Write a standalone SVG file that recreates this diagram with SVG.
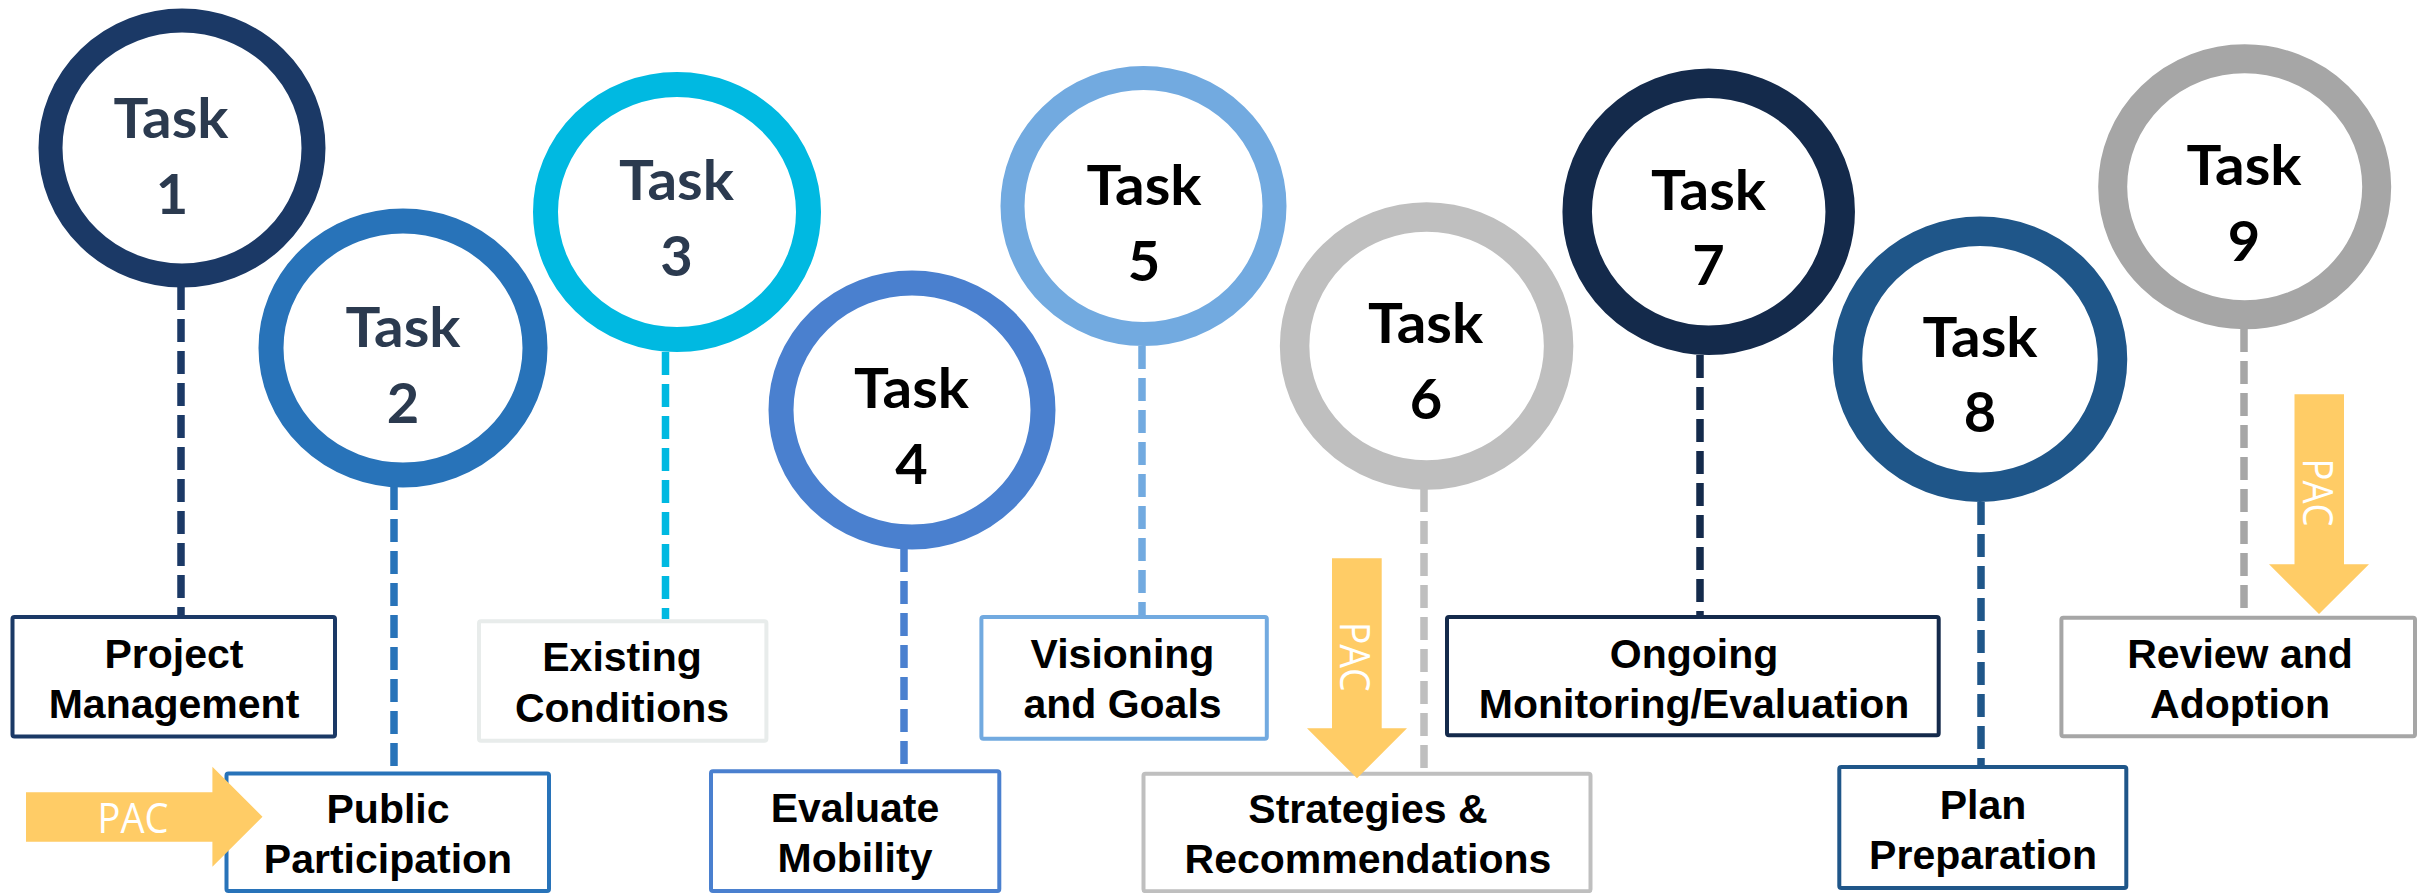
<svg xmlns="http://www.w3.org/2000/svg" width="2430" height="893" viewBox="0 0 2430 893">
<style>
.ring{fill:#fff}
.tk{font-family:Lato,"Open Sans",sans-serif;font-weight:700;font-size:56px;text-anchor:middle}
.dk{fill:#2b3a4f}
.bk{fill:#000}
.box{fill:#fff;stroke-width:4}
.bt{font-family:"Liberation Sans",Arial,sans-serif;font-weight:700;font-size:41px;text-anchor:middle;fill:#000}
.dash{fill:none;stroke-width:7.5;stroke-dasharray:23 9}
.pac{fill:#FFCC66}
.pt{font-family:"Open Sans","Liberation Sans",sans-serif;font-size:42px;fill:#fff;text-anchor:middle}
</style>
<rect width="2430" height="893" fill="#fff"/>
<g id="connectors">
<line class="dash" stroke="#1B3966" x1="181" y1="287" x2="181" y2="615"/>
<line class="dash" stroke="#2873B9" x1="394" y1="487" x2="394" y2="772"/>
<line class="dash" stroke="#00B9E1" x1="665.5" y1="352" x2="665.5" y2="619"/>
<line class="dash" stroke="#4A80CF" x1="904" y1="549" x2="904" y2="769"/>
<line class="dash" stroke="#72AAE0" x1="1142" y1="346" x2="1142" y2="615"/>
<line class="dash" stroke="#BFBFBF" x1="1424" y1="489" x2="1424" y2="772"/>
<line class="dash" stroke="#142A4B" x1="1700" y1="355" x2="1700" y2="615"/>
<line class="dash" stroke="#1F5689" x1="1981" y1="502" x2="1981" y2="765"/>
<line class="dash" stroke="#A6A6A6" x1="2244" y1="329" x2="2244" y2="615"/>
</g>
<g id="task1">
<ellipse class="ring" cx="182" cy="148" rx="131.5" ry="127.5" stroke="#1B3966" stroke-width="24"/>
<text class="tk dk" x="171" y="138" textLength="115" lengthAdjust="spacingAndGlyphs">Task</text>
<text class="tk dk" x="172" y="214">1</text>
</g>
<g id="task2">
<ellipse class="ring" cx="403" cy="348" rx="132" ry="127" stroke="#2873B9" stroke-width="25"/>
<text class="tk dk" x="403" y="346.7" textLength="115" lengthAdjust="spacingAndGlyphs">Task</text>
<text class="tk dk" x="403" y="422.7">2</text>
</g>
<g id="task3">
<ellipse class="ring" cx="677" cy="212" rx="131.5" ry="127.5" stroke="#00B9E1" stroke-width="25"/>
<text class="tk dk" x="676.4" y="200" textLength="115" lengthAdjust="spacingAndGlyphs">Task</text>
<text class="tk dk" x="676.4" y="276">3</text>
</g>
<g id="task4">
<ellipse class="ring" cx="912" cy="410" rx="131" ry="127" stroke="#4A80CF" stroke-width="25"/>
<text class="tk bk" x="911.5" y="408.3" textLength="115" lengthAdjust="spacingAndGlyphs">Task</text>
<text class="tk bk" x="911.5" y="484.3">4</text>
</g>
<g id="task5">
<ellipse class="ring" cx="1143.5" cy="206" rx="131" ry="128" stroke="#72AAE0" stroke-width="24"/>
<text class="tk bk" x="1144" y="205" textLength="115" lengthAdjust="spacingAndGlyphs">Task</text>
<text class="tk bk" x="1144" y="281">5</text>
</g>
<g id="task6">
<ellipse class="ring" cx="1426.6" cy="346" rx="132" ry="129" stroke="#BFBFBF" stroke-width="29.5"/>
<text class="tk bk" x="1425.6" y="343.3" textLength="115" lengthAdjust="spacingAndGlyphs">Task</text>
<text class="tk bk" x="1426" y="419.3">6</text>
</g>
<g id="task7">
<ellipse class="ring" cx="1708.7" cy="211.7" rx="131.5" ry="128.5" stroke="#142A4B" stroke-width="29.5"/>
<text class="tk bk" x="1708.5" y="210" textLength="115" lengthAdjust="spacingAndGlyphs">Task</text>
<text class="tk bk" x="1708.5" y="285">7</text>
</g>
<g id="task8">
<ellipse class="ring" cx="1980" cy="359.2" rx="132.5" ry="128" stroke="#1F5689" stroke-width="29.5"/>
<text class="tk bk" x="1980" y="356.7" textLength="115" lengthAdjust="spacingAndGlyphs">Task</text>
<text class="tk bk" x="1980" y="432.3">8</text>
</g>
<g id="task9">
<ellipse class="ring" cx="2244.7" cy="186.8" rx="132" ry="128" stroke="#A6A6A6" stroke-width="29"/>
<text class="tk bk" x="2244" y="185" textLength="115" lengthAdjust="spacingAndGlyphs">Task</text>
<text class="tk bk" x="2244" y="261">9</text>
</g>
<g id="box1">
<rect class="box" stroke="#1B3966" x="12.5" y="617" width="322.5" height="119.5" rx="2"/>
<text class="bt" x="174" y="668.3">Project</text>
<text class="bt" x="174" y="718">Management</text>
</g>
<g id="box2">
<rect class="box" stroke="#2873B9" x="226.5" y="773.5" width="322.5" height="117.5" rx="2"/>
<text class="bt" x="388" y="823.3">Public</text>
<text class="bt" x="388" y="873.3">Participation</text>
</g>
<g id="box3">
<rect class="box" stroke="#E8ECEB" x="479" y="621.3" width="287.4" height="119.4" rx="2"/>
<text class="bt" x="622" y="670.7">Existing</text>
<text class="bt" x="622" y="721.7">Conditions</text>
</g>
<g id="box4">
<rect class="box" stroke="#4A80CF" x="711" y="771.3" width="288.3" height="119.7" rx="2"/>
<text class="bt" x="855" y="821.7">Evaluate</text>
<text class="bt" x="855" y="871.7">Mobility</text>
</g>
<g id="box5">
<rect class="box" stroke="#72AAE0" x="981.4" y="617" width="285.4" height="121.7" rx="2"/>
<text class="bt" x="1122.5" y="668.3">Visioning</text>
<text class="bt" x="1122.5" y="718.3">and Goals</text>
</g>
<g id="box6">
<rect class="box" stroke="#BFBFBF" x="1143.5" y="773.7" width="447" height="117.5" rx="2"/>
<text class="bt" x="1368" y="823.3">Strategies &amp;</text>
<text class="bt" x="1368" y="873.3">Recommendations</text>
</g>
<g id="box7">
<rect class="box" stroke="#142A4B" x="1447" y="617" width="491.7" height="118.3" rx="2"/>
<text class="bt" x="1694" y="668.3">Ongoing</text>
<text class="bt" x="1694" y="717.7">Monitoring/Evaluation</text>
</g>
<g id="box8">
<rect class="box" stroke="#1F5689" x="1839.3" y="767" width="287" height="121" rx="2"/>
<text class="bt" x="1983" y="819.3">Plan</text>
<text class="bt" x="1983" y="869.3">Preparation</text>
</g>
<g id="box9">
<rect class="box" stroke="#A6A6A6" x="2061.4" y="617.7" width="353.6" height="118.6" rx="2"/>
<text class="bt" x="2240" y="668.3">Review and</text>
<text class="bt" x="2240" y="718.3">Adoption</text>
</g>
<g id="pac1">
<polygon class="pac" points="26,792.3 212.4,792.3 212.4,766.7 262.5,816.7 212.4,866.7 212.4,841.7 26,841.7"/>
<text class="pt" x="133" y="832.7" textLength="71" lengthAdjust="spacingAndGlyphs">PAC</text>
</g>
<g id="pac6">
<polygon class="pac" points="1332,558.3 1381.7,558.3 1381.7,728.3 1407,728.3 1357,778.3 1307,728.3 1332,728.3"/>
<text class="pt" transform="translate(1340,656.7) rotate(90)" x="0" y="0" textLength="70" lengthAdjust="spacingAndGlyphs">PAC</text>
</g>
<g id="pac9">
<polygon class="pac" points="2294.5,394.3 2344,394.3 2344,564.3 2369,564.3 2319,614 2269,564.3 2294.5,564.3"/>
<text class="pt" transform="translate(2303,492.5) rotate(90)" x="0" y="0" textLength="68" lengthAdjust="spacingAndGlyphs">PAC</text>
</g>
</svg>
